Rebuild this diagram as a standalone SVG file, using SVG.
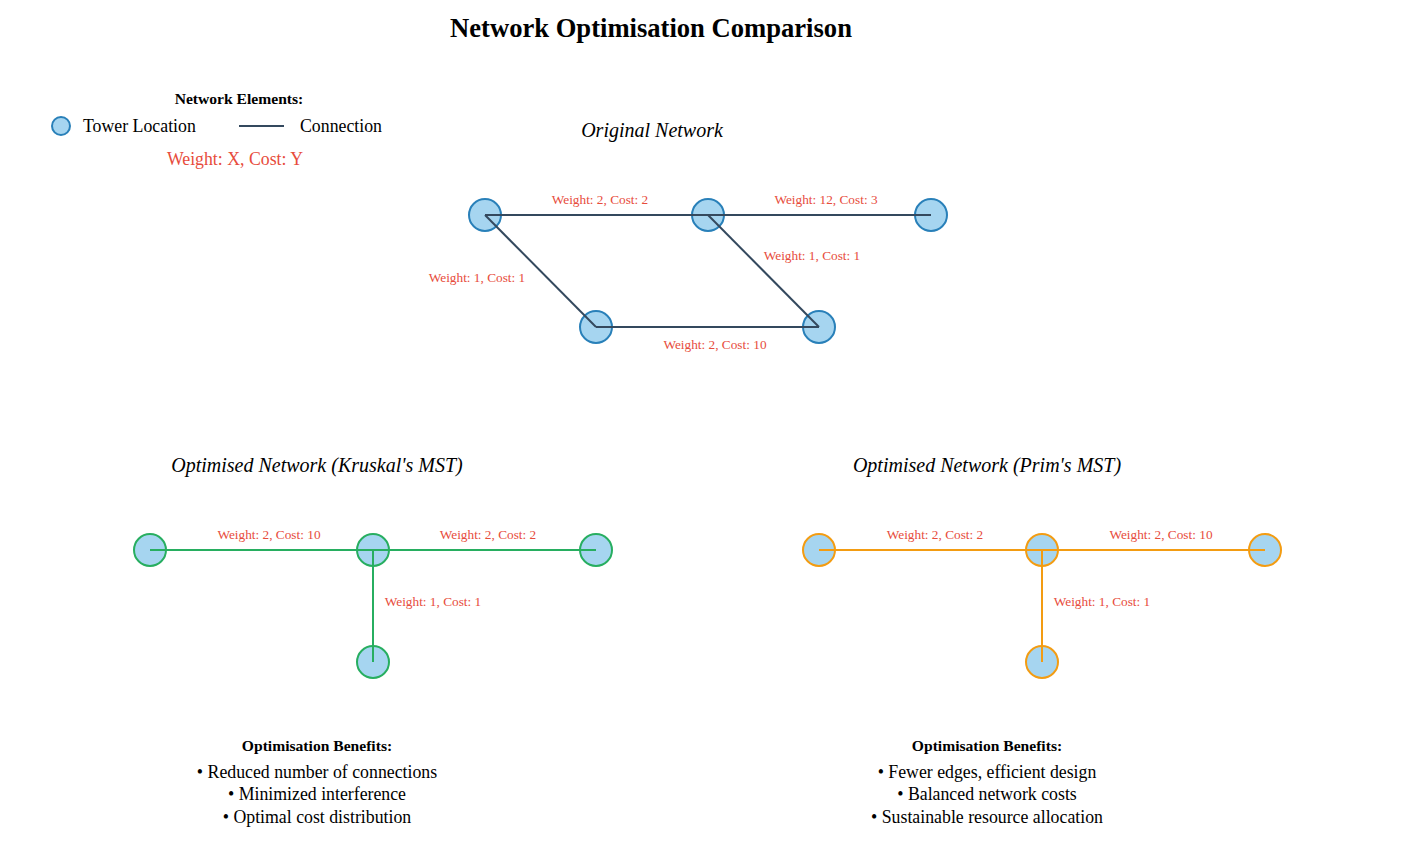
<svg xmlns="http://www.w3.org/2000/svg" width="1403" height="867" viewBox="0 0 1403 867">
<style>
text{font-family:"Liberation Serif","Times New Roman",serif;}
.title{font-size:26.6px;font-weight:bold;fill:#000;text-anchor:middle;}
.sub{font-size:20px;font-style:italic;fill:#000;text-anchor:middle;}
.lbl{font-size:13.3px;fill:#e74c3c;text-anchor:middle;}
.hdr{font-size:15.6px;font-weight:bold;fill:#000;text-anchor:middle;}
.body{font-size:17.8px;fill:#000;}
.mid{text-anchor:middle;}
.node{fill:#a6d5f0;stroke-width:2;}
.orig{stroke:#2980b9;}
.kr{stroke:#27ae60;}
.pr{stroke:#f39c12;}
.e{stroke-width:2;fill:none;}
.eo{stroke:#34495e;}
.ek{stroke:#27ae60;}
.ep{stroke:#f39c12;}
</style>
<rect width="1403" height="867" fill="#fff"/>
<text class="title" x="651" y="37">Network Optimisation Comparison</text>

<g id="legend">
<text class="hdr" x="239" y="104">Network Elements:</text>
<circle class="node orig" cx="61" cy="126" r="9"/>
<text class="body" x="83" y="132">Tower Location</text>
<line class="e eo" x1="239" y1="126" x2="284" y2="126"/>
<text class="body" x="300" y="132">Connection</text>
<text class="body mid" x="235" y="165" style="fill:#e74c3c">Weight: X, Cost: Y</text>
</g>

<text class="sub" x="652" y="137">Original Network</text>
<g id="orig-nodes">
<g id="o1"><circle class="node orig" cx="485" cy="215" r="16"/></g>
<g id="o2"><circle class="node orig" cx="708" cy="215" r="16"/></g>
<g id="o3"><circle class="node orig" cx="931" cy="215" r="16"/></g>
<g id="o4"><circle class="node orig" cx="596" cy="327" r="16"/></g>
<g id="o5"><circle class="node orig" cx="819" cy="327" r="16"/></g>
</g>
<g id="orig-connectors">
<line class="e eo" x1="485" y1="215" x2="708" y2="215"/>
<line class="e eo" x1="708" y1="215" x2="931" y2="215"/>
<line class="e eo" x1="485" y1="215" x2="596" y2="327"/>
<line class="e eo" x1="708" y1="215" x2="819" y2="327"/>
<line class="e eo" x1="596" y1="327" x2="819" y2="327"/>
<text class="lbl" x="600" y="204">Weight: 2, Cost: 2</text>
<text class="lbl" x="826" y="204">Weight: 12, Cost: 3</text>
<text class="lbl" x="477" y="282">Weight: 1, Cost: 1</text>
<text class="lbl" x="812" y="260">Weight: 1, Cost: 1</text>
<text class="lbl" x="715" y="349">Weight: 2, Cost: 10</text>
</g>

<text class="sub" x="317" y="472">Optimised Network (Kruskal's MST)</text>
<g id="kruskal-nodes">
<g id="k1"><circle class="node kr" cx="150" cy="550" r="16"/></g>
<g id="k2"><circle class="node kr" cx="373" cy="550" r="16"/></g>
<g id="k3"><circle class="node kr" cx="596" cy="550" r="16"/></g>
<g id="k4"><circle class="node kr" cx="373" cy="662" r="16"/></g>
</g>
<g id="kruskal-connectors">
<line class="e ek" x1="150" y1="550" x2="373" y2="550"/>
<line class="e ek" x1="373" y1="550" x2="596" y2="550"/>
<line class="e ek" x1="373" y1="550" x2="373" y2="662"/>
<text class="lbl" x="269" y="539">Weight: 2, Cost: 10</text>
<text class="lbl" x="488" y="539">Weight: 2, Cost: 2</text>
<text class="lbl" x="433" y="606">Weight: 1, Cost: 1</text>
</g>

<text class="sub" x="987" y="472">Optimised Network (Prim's MST)</text>
<g id="prim-nodes">
<g id="p1"><circle class="node pr" cx="819" cy="550" r="16"/></g>
<g id="p2"><circle class="node pr" cx="1042" cy="550" r="16"/></g>
<g id="p3"><circle class="node pr" cx="1265" cy="550" r="16"/></g>
<g id="p4"><circle class="node pr" cx="1042" cy="662" r="16"/></g>
</g>
<g id="prim-connectors">
<line class="e ep" x1="819" y1="550" x2="1042" y2="550"/>
<line class="e ep" x1="1042" y1="550" x2="1265" y2="550"/>
<line class="e ep" x1="1042" y1="550" x2="1042" y2="662"/>
<text class="lbl" x="935" y="539">Weight: 2, Cost: 2</text>
<text class="lbl" x="1161" y="539">Weight: 2, Cost: 10</text>
<text class="lbl" x="1102" y="606">Weight: 1, Cost: 1</text>
</g>

<g id="kruskal-benefits">
<text class="hdr" x="317" y="751">Optimisation Benefits:</text>
<text class="body mid" x="317" y="778">• Reduced number of connections</text>
<text class="body mid" x="317" y="800">• Minimized interference</text>
<text class="body mid" x="317" y="823">• Optimal cost distribution</text>
</g>
<g id="prim-benefits">
<text class="hdr" x="987" y="751">Optimisation Benefits:</text>
<text class="body mid" x="987" y="778">• Fewer edges, efficient design</text>
<text class="body mid" x="987" y="800">• Balanced network costs</text>
<text class="body mid" x="987" y="823">• Sustainable resource allocation</text>
</g>
</svg>
